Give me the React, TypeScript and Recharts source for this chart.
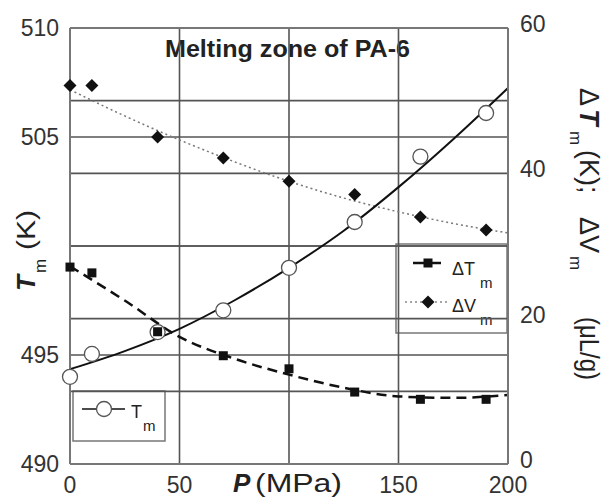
import { ComposedChart, Line, XAxis, YAxis, ReferenceLine, Customized } from 'recharts';

// measured points
const pressure = [0, 10, 40, 70, 100, 130, 160, 190];
const tmMeasured = [494.0, 495.05, 496.05, 497.05, 499.0, 501.1, 504.1, 506.1];
const dTmMeasured = [27.1, 26.3, 18.2, 14.9, 13.1, 9.9, 8.9, 8.9];
const dVmMeasured = [52.1, 52.1, 45.0, 42.1, 38.9, 37.1, 34.0, 32.2];

// fitted trend curves
const fitPressure = [0, 25, 50, 75, 100, 125, 150, 175, 200];
const tmFit = [494.35, 495.18, 496.2, 497.5, 499.0, 500.7, 502.7, 504.9, 507.25];
const dTmFit = [27.2, 22.5, 17.5, 14.5, 12.3, 10.5, 9.3, 9.1, 9.5];
const dVmFit = [51.5, 47.9, 44.6, 41.6, 38.9, 36.6, 34.7, 33.1, 31.8];

// 100 MPa and 500 K labels are left out: the axis titles sit there
const pressureTicks = [0, 50, 150, 200];
const tmTicks = [490, 495, 505, 510];
const deltaTicks = [0, 20, 40, 60];
const pressureGrid = [50, 100, 150];
const tmGrid = [495, 500, 505];
const deltaGrid = [10, 20, 30, 40, 50];

const FONT = '"Liberation Sans", Arial, sans-serif';
const FRAME = '#777';
const GRID = '#555';

const rows = Array.from(new Set([...pressure, ...fitPressure]))
  .sort((a, b) => a - b)
  .map((p) => {
    const i = pressure.indexOf(p);
    const j = fitPressure.indexOf(p);
    return {
      p,
      tm: i >= 0 ? tmMeasured[i] : null,
      dTm: i >= 0 ? dTmMeasured[i] : null,
      dVm: i >= 0 ? dVmMeasured[i] : null,
      tmFit: j >= 0 ? tmFit[j] : null,
      dTmFit: j >= 0 ? dTmFit[j] : null,
      dVmFit: j >= 0 ? dVmFit[j] : null,
    };
  });

const missing = (cx: any, cy: any) => cx == null || cy == null || isNaN(cx) || isNaN(cy);

const CircleDot = (props: any) => {
  const { cx, cy, index } = props;
  if (missing(cx, cy)) return <g key={`c${index}`} />;
  return <circle key={`c${index}`} cx={cx} cy={cy} r={7.5} fill="#fff" stroke="#555" strokeWidth={1.3} />;
};

const SquareDot = (props: any) => {
  const { cx, cy, index } = props;
  if (missing(cx, cy)) return <g key={`s${index}`} />;
  return <rect key={`s${index}`} x={cx - 4.5} y={cy - 4.5} width={9} height={9} fill="#111" />;
};

const DiamondDot = (props: any) => {
  const { cx, cy, index } = props;
  if (missing(cx, cy)) return <g key={`d${index}`} />;
  const r = 6.5;
  return (
    <polygon
      key={`d${index}`}
      points={`${cx},${cy - r} ${cx + r},${cy} ${cx},${cy + r} ${cx - r},${cy}`}
      fill="#111"
    />
  );
};

// title, axis titles and the two legend boxes
const Annotations = () => (
  <g fontFamily={FONT} fill="#222">
    <text x={165} y={57} fontSize={24} fontWeight="bold" textLength={245} lengthAdjust="spacingAndGlyphs">
      Melting zone of PA-6
    </text>

    <text x={233} y={492} fontSize={26} fontWeight="bold" fontStyle="italic">P</text>
    <text x={255} y={492} fontSize={26} textLength={87} lengthAdjust="spacingAndGlyphs">(MPa)</text>

    <g transform="translate(35, 0) rotate(-90)">
      <text x={-291} y={0} fontSize={26} fontWeight="bold" fontStyle="italic">T</text>
      <text x={-273} y={11} fontSize={17}>m</text>
      <text x={-250} y={0} fontSize={26} textLength={40} lengthAdjust="spacingAndGlyphs">(K)</text>
    </g>

    <g transform="translate(580, 0) rotate(90)">
      <text x={88} y={0} fontSize={27}>Δ</text>
      <text x={109} y={0} fontSize={27} fontWeight="bold" fontStyle="italic">T</text>
      <text x={131} y={10} fontSize={17}>m</text>
      <text x={150} y={0} fontSize={27}>(K);</text>
      <text x={217} y={0} fontSize={27}>ΔV</text>
      <text x={256} y={10} fontSize={17}>m</text>
      <text x={317} y={0} fontSize={27} textLength={63} lengthAdjust="spacingAndGlyphs">(μL/g)</text>
    </g>

    {/* T_m legend */}
    <rect x={73} y={391} width={92} height={50} fill="#fff" stroke={FRAME} strokeWidth={1.5} />
    <line x1={82} y1={409} x2={125} y2={409} stroke="#111" strokeWidth={1.5} />
    <circle cx={104} cy={409} r={7.5} fill="#fff" stroke="#555" strokeWidth={1.3} />
    <text x={131} y={418} fontSize={18}>T</text>
    <text x={143} y={431} fontSize={15}>m</text>

    {/* ΔT_m / ΔV_m legend */}
    <rect x={396} y={244} width={111} height={89} fill="#fff" stroke={FRAME} strokeWidth={1.5} />
    <line x1={413} y1={263} x2={445} y2={263} stroke="#111" strokeWidth={2.5} strokeDasharray="12 4" />
    <rect x={423.5} y={258.5} width={9} height={9} fill="#111" />
    <text x={452} y={275} fontSize={18}>ΔT</text>
    <text x={480} y={288} fontSize={15}>m</text>
    <line x1={405} y1={302} x2={448} y2={302} stroke="#888" strokeWidth={1.5} strokeDasharray="2 3" />
    <polygon points="428,295.5 434.5,302 428,308.5 421.5,302" fill="#111" />
    <text x={452} y={312} fontSize={18}>ΔV</text>
    <text x={480} y={325} fontSize={15}>m</text>
  </g>
);

const tickStyle = { fontSize: 23, fill: '#333', fontFamily: FONT };

export default function App() {
  return (
    <div style={{ position: 'absolute', left: 0, top: 0, background: '#fff' }}>
      <ComposedChart width={610} height={500} data={rows} margin={{ top: 28, right: 42, bottom: 6, left: 0 }}>
        <XAxis
          type="number"
          dataKey="p"
          domain={[0, 200]}
          ticks={pressureTicks}
          height={30}
          tickSize={0}
          tickMargin={13}
          tickLine={false}
          axisLine={{ stroke: FRAME, strokeWidth: 2 }}
          tick={tickStyle}
        />
        <YAxis
          yAxisId="tm"
          domain={[490, 510]}
          ticks={tmTicks}
          width={70}
          tickSize={0}
          tickMargin={11}
          tickLine={false}
          axisLine={{ stroke: FRAME, strokeWidth: 2 }}
          tick={tickStyle}
        />
        <YAxis
          yAxisId="delta"
          orientation="right"
          domain={[0, 60]}
          ticks={deltaTicks}
          width={60}
          tickSize={0}
          tickMargin={12}
          tickLine={false}
          axisLine={{ stroke: FRAME, strokeWidth: 2 }}
          tick={{ ...tickStyle, dy: -4 }}
        />

        {pressureGrid.map((v) => (
          <ReferenceLine key={`vx${v}`} yAxisId="tm" x={v} stroke={GRID} strokeWidth={1.6} />
        ))}
        {tmGrid.map((v) => (
          <ReferenceLine key={`ht${v}`} yAxisId="tm" y={v} stroke={GRID} strokeWidth={1.6} />
        ))}
        {deltaGrid.map((v) => (
          <ReferenceLine key={`hd${v}`} yAxisId="delta" y={v} stroke={GRID} strokeWidth={1.6} />
        ))}
        <ReferenceLine yAxisId="delta" y={60} stroke={FRAME} strokeWidth={2} />

        <Line
          yAxisId="delta"
          dataKey="dVmFit"
          type="monotone"
          connectNulls
          stroke="#777"
          strokeWidth={1.5}
          strokeDasharray="2 3"
          dot={false}
          activeDot={false}
          isAnimationActive={false}
        />
        <Line
          yAxisId="delta"
          dataKey="dVm"
          stroke="none"
          dot={DiamondDot}
          activeDot={false}
          isAnimationActive={false}
        />
        <Line
          yAxisId="tm"
          dataKey="tmFit"
          type="monotone"
          connectNulls
          stroke="#111"
          strokeWidth={2}
          dot={false}
          activeDot={false}
          isAnimationActive={false}
        />
        <Line
          yAxisId="tm"
          dataKey="tm"
          stroke="none"
          dot={CircleDot}
          activeDot={false}
          isAnimationActive={false}
        />
        <Line
          yAxisId="delta"
          dataKey="dTmFit"
          type="monotone"
          connectNulls
          stroke="#111"
          strokeWidth={2.5}
          strokeDasharray="10 6"
          dot={false}
          activeDot={false}
          isAnimationActive={false}
        />
        <Line
          yAxisId="delta"
          dataKey="dTm"
          stroke="none"
          dot={SquareDot}
          activeDot={false}
          isAnimationActive={false}
        />

        <Customized component={Annotations} />
      </ComposedChart>
    </div>
  );
}
